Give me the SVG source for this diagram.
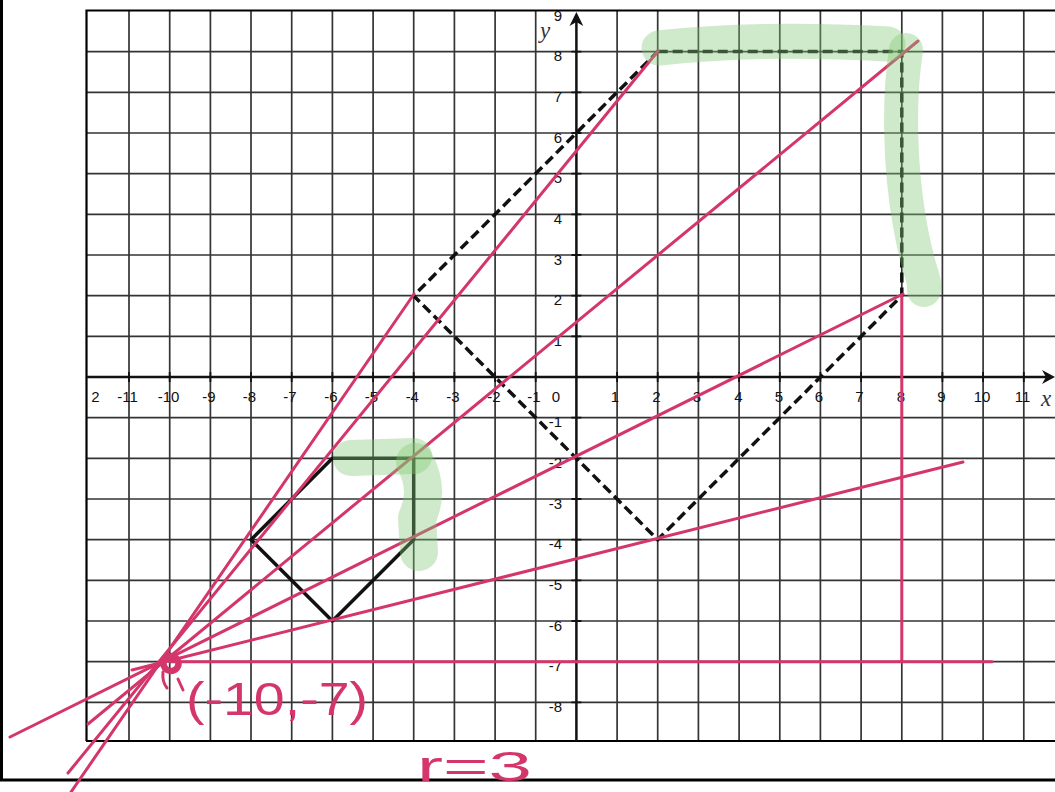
<svg xmlns="http://www.w3.org/2000/svg" width="1055" height="792" viewBox="0 0 1055 792">
<style>
.grid{stroke:#343434;stroke-width:1.7;fill:none}
.axis{stroke:#111;stroke-width:2.5;fill:none}
.tick{stroke:#111;stroke-width:1.8;fill:none}
.lbl{font-family:"Liberation Sans",Arial,sans-serif;font-size:15px;fill:#111}
.xl{text-anchor:middle}
.yl{text-anchor:end}
.var{font-family:"Liberation Serif","Times New Roman",serif;font-style:italic;font-size:23px;fill:#333}
.solid{stroke:#111;stroke-width:3.5;fill:none;stroke-linejoin:round}
.dash{stroke:#111;stroke-width:3.5;fill:none;stroke-dasharray:10 5}
.ray{stroke:#d4366c;stroke-width:3;fill:none;stroke-linecap:round}
.hl{stroke:#82c873;stroke-opacity:0.38;fill:none;stroke-linecap:round;stroke-linejoin:round}
.ink{font-family:"Liberation Sans",Arial,sans-serif;fill:#d4366c}
</style>
<defs>
<clipPath id="box"><rect x="86" y="10.5" width="969" height="730.5"/></clipPath>
</defs>
<rect x="0" y="0" width="1055" height="792" fill="#fff"/>
<g id="frame">
<path d="M1.5 0 V781 M0 780 H1055" stroke="#000" stroke-width="3" fill="none"/>
</g>
<g id="grid">
<path class="grid" d="M129 11V741M169.7 11V741M210.4 11V741M251 11V741M291.7 11V741M332.4 11V741M373.1 11V741M413.7 11V741M454.4 11V741M495.1 11V741M535.7 11V741M617.1 11V741M657.7 11V741M698.4 11V741M739.1 11V741M779.8 11V741M820.4 11V741M861.1 11V741M901.8 11V741M942.4 11V741M983.1 11V741M1023.8 11V741"/>
<path class="grid" d="M87 51.6H1055M87 92.3H1055M87 133H1055M87 173.7H1055M87 214.3H1055M87 255H1055M87 295.7H1055M87 336.3H1055M87 417.7H1055M87 458.3H1055M87 499H1055M87 539.7H1055M87 580.4H1055M87 621H1055M87 661.7H1055M87 702.4H1055"/>
<path d="M86.5 741 V10.5 H1055 M86 741 H1055" stroke="#000" stroke-width="2.2" fill="none"/>
</g>
<g id="axes">
<path class="axis" d="M87 377 H1050 M576.4 741 V18"/>
<path d="M1055 377 L1042 370 L1046 377 L1042 384 Z M576.4 12 L569.5 26 L576.4 22 L583.3 26 Z" fill="#111"/>
<path class="tick" d="M129 372V382M169.7 372V382M210.4 372V382M251 372V382M291.7 372V382M332.4 372V382M373.1 372V382M413.7 372V382M454.4 372V382M495.1 372V382M535.7 372V382M617.1 372V382M657.7 372V382M698.4 372V382M739.1 372V382M779.8 372V382M820.4 372V382M861.1 372V382M901.8 372V382M942.4 372V382M983.1 372V382M1023.8 372V382"/>
<path class="tick" d="M571.4 51.6H581.4M571.4 92.3H581.4M571.4 133H581.4M571.4 173.7H581.4M571.4 214.3H581.4M571.4 255H581.4M571.4 295.7H581.4M571.4 336.3H581.4M571.4 417.7H581.4M571.4 458.3H581.4M571.4 499H581.4M571.4 539.7H581.4M571.4 580.4H581.4M571.4 621H581.4M571.4 661.7H581.4M571.4 702.4H581.4"/>
</g>
<g id="labels" class="lbl">
<g class="xl">
<text x="95.5" y="402">2</text>
<text x="127.5" y="402">-11</text>
<text x="168.5" y="402">-10</text>
<text x="209" y="402">-9</text>
<text x="249.5" y="402">-8</text>
<text x="290" y="402">-7</text>
<text x="331" y="402">-6</text>
<text x="371.5" y="402">-5</text>
<text x="412.3" y="402">-4</text>
<text x="453" y="402">-3</text>
<text x="494" y="402">-2</text>
<text x="534" y="402">-1</text>
<text x="556" y="402">0</text>
<text x="615" y="402">1</text>
<text x="656.3" y="402">2</text>
<text x="697" y="402">3</text>
<text x="738.3" y="402">4</text>
<text x="778.8" y="402">5</text>
<text x="818.8" y="402">6</text>
<text x="859.5" y="402">7</text>
<text x="900.8" y="402">8</text>
<text x="941.5" y="402">9</text>
<text x="982" y="402">10</text>
<text x="1022.5" y="402">11</text>
</g>
<g class="yl" clip-path="url(#box)">
<text x="562" y="20.5">9</text>
<text x="562" y="61.1">8</text>
<text x="562" y="101.8">7</text>
<text x="562" y="142.5">6</text>
<text x="562" y="183.2">5</text>
<text x="562" y="223.8">4</text>
<text x="562" y="264.5">3</text>
<text x="562" y="305.2">2</text>
<text x="562" y="345.8">1</text>
<text x="562" y="427.2">-1</text>
<text x="562" y="467.8">-2</text>
<text x="562" y="508.5">-3</text>
<text x="562" y="549.2">-4</text>
<text x="562" y="589.9">-5</text>
<text x="562" y="630.5">-6</text>
<text x="562" y="671.2">-7</text>
<text x="562" y="711.9">-8</text>
</g>
<text class="var" x="1046" y="406" text-anchor="middle">x</text>
<text class="var" x="545" y="38" text-anchor="middle">y</text>
</g>
<g id="preimage">
<path class="solid" d="M332.4 458.3 L413.7 458.3 L413.7 539.7 L332.4 621 L251 539.7 Z"/>
</g>
<g id="image">
<path class="dash" d="M657.7 51.6 L901.8 51.6 L901.8 295.7 L657.7 539.7 L413.7 295.7 Z"/>
</g>
<g id="connectors">
<line class="ray" x1="68" y1="773" x2="658" y2="51"/>
<line class="ray" x1="71" y1="792" x2="414" y2="294"/>
<line class="ray" x1="88" y1="724" x2="918" y2="41"/>
<line class="ray" x1="10" y1="737" x2="903" y2="294"/>
<line class="ray" x1="132" y1="670" x2="963" y2="462"/>
<line class="ray" x1="170" y1="661.7" x2="992" y2="661.7"/>
<line class="ray" x1="901.8" y1="295.7" x2="901.8" y2="661.7"/>
</g>
<g id="center">
<circle cx="171" cy="663.5" r="7.5" fill="none" stroke="#d4366c" stroke-width="6.5"/>
<path d="M163 672 Q162 682 167 688 M178 679 L183 690" stroke="#d4366c" stroke-width="3" fill="none" stroke-linecap="round"/>
<text class="ink" x="186" y="715" font-size="46" textLength="182" lengthAdjust="spacingAndGlyphs">(-10,-7)</text>
</g>
<g id="highlights">
<path class="hl" stroke-width="35" d="M659 48 Q760 37 888 44"/>
<path class="hl" stroke-width="34" d="M906 50 C898 100 900 170 910 225 S925 275 924 290"/>
<path class="hl" stroke-width="36" d="M351 458 L414 456"/>
<path class="hl" stroke-width="38" d="M415 462 Q430 490 417 518 L419 552"/>
</g>
<g id="note">
<text class="ink" x="417" y="781" font-size="42" textLength="115" lengthAdjust="spacingAndGlyphs">r=3</text>
</g>
</svg>
